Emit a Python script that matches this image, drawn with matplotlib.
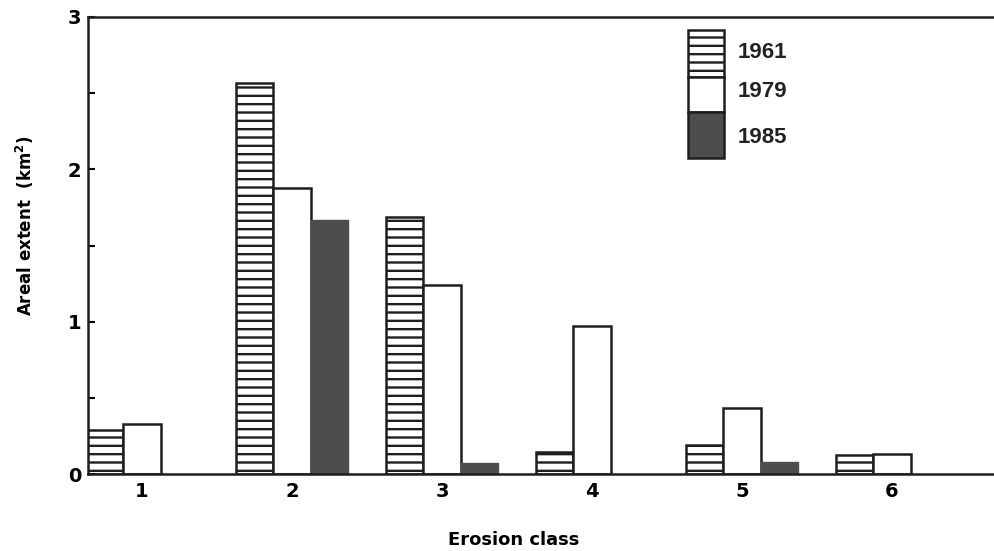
import numpy as np
import matplotlib.pyplot as plt
from matplotlib.patches import Rectangle

# areal extent per erosion class (km^2)
classes = [1, 2, 3, 4, 5, 6]
ext_1961 = [0.29, 2.57, 1.69, 0.145, 0.19, 0.125]
ext_1979 = [0.33, 1.875, 1.24, 0.97, 0.43, 0.13]
ext_1985 = [0.0, 1.67, 0.07, 0.0, 0.08, 0.0]
years = ['1961', '1979', '1985']

plt.rcParams['font.family'] = ['Liberation Sans', 'DejaVu Sans']
plt.rcParams['font.weight'] = 'bold'
plt.rcParams['hatch.linewidth'] = 1.7
plt.rcParams['hatch.color'] = '#222222'

dark = '#4d4d4d'
edge = '#1e1e1e'
lab_font = ['DejaVu Sans']

fig = plt.figure(figsize=(9.95, 5.51), dpi=100)
ax = fig.add_axes([88 / 995, 77 / 551, 907 / 995, 457 / 551])

x = np.array(classes, dtype=float)
w = 0.247

ax.bar(x - w, ext_1961, w, color='white', edgecolor=edge, hatch='--', linewidth=1.8)
ax.bar(x, ext_1979, w, color='white', edgecolor=edge, linewidth=1.8)
vals = np.array(ext_1985)
keep = vals > 0
ax.bar((x + w)[keep], vals[keep], w, color=dark, edgecolor=dark, linewidth=1.0)

ax.set_xlim(1 - 54 / 150, 1 + 853 / 150)
ax.set_ylim(0, 3)

ax.set_yticks([0, 1, 2, 3])
ax.set_yticklabels(['0', '1', '2', '3'], fontsize=14, fontweight='bold', family=lab_font)
ax.set_yticks([0.5, 1.5, 2.5], minor=True)
ax.tick_params(axis='y', which='both', direction='in', length=5, width=1.5, pad=5)
ax.set_xticks(classes)
ax.set_xticklabels([str(c) for c in classes], fontsize=14, fontweight='bold', family=lab_font)
ax.tick_params(axis='x', length=0, pad=6)

ax.spines['right'].set_visible(False)
for s in ['left', 'top', 'bottom']:
    ax.spines[s].set_linewidth(1.8)
    ax.spines[s].set_color(edge)

ax.set_ylabel('Areal extent  (km$^\\mathbf{2}$)', fontsize=12, fontweight='bold', family=lab_font)
ax.yaxis.set_label_coords(-0.057, 0.543)
ax.set_xlabel('Erosion class', fontsize=13, fontweight='bold', family=lab_font)
ax.xaxis.set_label_coords(0.469, -0.125)

# stacked legend box
tr = ax.transAxes
bx, bw = 0.6615, 0.0397
ax.add_patch(Rectangle((bx, 0.8687), bw, 0.1029, transform=tr, facecolor='white',
                       edgecolor=edge, hatch='--', linewidth=1.8, clip_on=False))
ax.add_patch(Rectangle((bx, 0.792), bw, 0.0767, transform=tr, facecolor='white',
                       edgecolor=edge, linewidth=1.8, clip_on=False))
ax.add_patch(Rectangle((bx, 0.6915), bw, 0.1005, transform=tr, facecolor=dark,
                       edgecolor=edge, linewidth=1.8, clip_on=False))
for yy, lab in zip([0.923, 0.836, 0.737], years):
    ax.text(0.7166, yy, lab, transform=tr, fontsize=16, fontweight='bold',
            va='center', ha='left', color='#222222')

fig.savefig('out.png', dpi=100)
